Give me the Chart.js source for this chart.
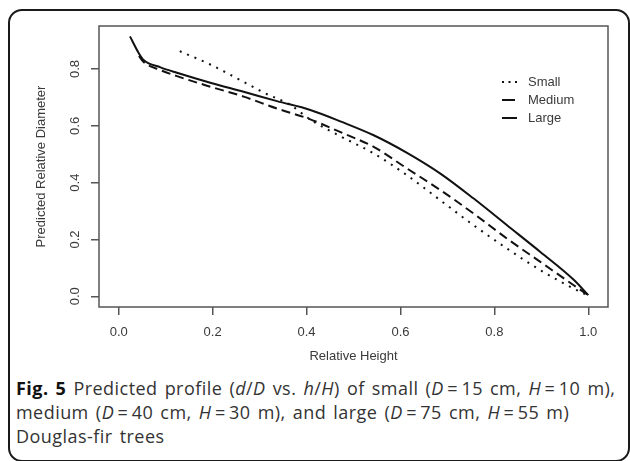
<!DOCTYPE html>
<html>
<head>
<meta charset="utf-8">
<script src="https://cdn.jsdelivr.net/npm/chart.js@4"></script>
<style>
  body { margin: 0; background: #fff; width: 630px; height: 461px; overflow: hidden; position: relative; }
  #frame { position: absolute; left: 8px; top: 9px; width: 622px; height: 453px; box-sizing: border-box;
           border: 2px solid #1a1a1a; border-radius: 14px; }
  #wrap { position: absolute; left: 0; top: 0; width: 630px; height: 370px; }
  #caption { position: absolute; left: 16px; top: 376px; white-space: nowrap;
             font-family: "Open Sans", "Noto Sans", sans-serif; font-size: 18px; line-height: 24px;
             letter-spacing: 0.45px; word-spacing: 2px; color: #333; }
  #caption b { color: #111; }
</style>
</head>
<body>
<div id="frame"></div>
<div id="wrap"><canvas id="profile"></canvas></div>
<div id="caption"><b>Fig. 5</b> Predicted profile (<i>d</i>/<i>D</i> vs. <i>h</i>/<i>H</i>) of small (<i>D</i>&#8201;=&#8201;15 cm, <i>H</i>&#8201;=&#8201;10 m),<br>medium (<i>D</i>&#8201;=&#8201;40 cm, <i>H</i>&#8201;=&#8201;30 m), and large (<i>D</i>&#8201;=&#8201;75 cm, <i>H</i>&#8201;=&#8201;55 m)<br>Douglas-fir trees</div>
<script>
// relative height (h/H) and predicted relative diameter (d/D)
var smallH = [0.130, 0.195, 0.266, 0.309, 0.366, 0.408, 0.475, 0.543, 0.614, 0.685, 0.756, 0.827, 0.898, 0.969, 1.0];
var smallD = [0.863, 0.816, 0.755, 0.717, 0.673, 0.622, 0.561, 0.503, 0.426, 0.338, 0.250, 0.168, 0.092, 0.027, 0.002];

var mediumH = [0.043, 0.053, 0.089, 0.124, 0.195, 0.266, 0.337, 0.408, 0.475, 0.543, 0.614, 0.685, 0.756, 0.827, 0.898, 0.969, 1.0];
var mediumD = [0.846, 0.825, 0.796, 0.775, 0.738, 0.703, 0.661, 0.623, 0.576, 0.526, 0.450, 0.374, 0.291, 0.203, 0.121, 0.039, 0.004];

var largeH = [0.024, 0.043, 0.053, 0.089, 0.124, 0.195, 0.266, 0.337, 0.408, 0.475, 0.543, 0.614, 0.685, 0.756, 0.827, 0.898, 0.969, 1.0];
var largeD = [0.915, 0.855, 0.832, 0.806, 0.787, 0.752, 0.720, 0.687, 0.656, 0.614, 0.567, 0.505, 0.432, 0.344, 0.250, 0.156, 0.058, 0.004];

var seriesNames = ['Small', 'Medium', 'Large'];
var xTicks = [0.0, 0.2, 0.4, 0.6, 0.8, 1.0];
var yTicks = [0.0, 0.2, 0.4, 0.6, 0.8];

function pts(xs, ys) {
    return xs.map(function (x, i) { return { x: x, y: ys[i] }; });
}

var axisFont = { family: '"Liberation Sans", Arial, sans-serif', size: 13 };
var axisColor = '#555';
var textColor = '#3a3a3a';

// R style box, rotated y labels and the legend
var rStyle = {
    id: 'rStyle',
    afterDraw: function (chart) {
        var ctx = chart.ctx, a = chart.chartArea;
        ctx.save();
        ctx.strokeStyle = axisColor;
        ctx.lineWidth = 1.5;
        ctx.strokeRect(a.left, a.top, a.right - a.left, a.bottom - a.top);

        var ys = chart.scales.y;
        ctx.fillStyle = textColor;
        ctx.font = axisFont.size + 'px ' + axisFont.family;
        ctx.textAlign = 'center';
        ctx.textBaseline = 'middle';
        yTicks.forEach(function (v) {
            ctx.save();
            ctx.translate(75, ys.getPixelForValue(v));
            ctx.rotate(-Math.PI / 2);
            ctx.fillText(v.toFixed(1), 0, 0);
            ctx.restore();
        });

        var legendDash = [[2, 4.5], [13, 40], []];
        chart.data.datasets.forEach(function (ds, i) {
            var y = 82 + i * 18;
            ctx.strokeStyle = ds.borderColor;
            ctx.lineWidth = 2;
            ctx.setLineDash(legendDash[i]);
            ctx.beginPath();
            ctx.moveTo(502, y);
            ctx.lineTo(517, y);
            ctx.stroke();
            ctx.setLineDash([]);
            ctx.textAlign = 'left';
            ctx.fillStyle = textColor;
            ctx.fillText(ds.label, 528, y);
        });
        ctx.restore();
    }
};

var ctx = document.getElementById('profile').getContext('2d');
var profileChart = new Chart(ctx, {
    type: 'line',
    data: {
        datasets: [{
            label: seriesNames[0],
            data: pts(smallH, smallD),
            borderDash: [2, 6]
        }, {
            label: seriesNames[1],
            data: pts(mediumH, mediumD),
            borderDash: [9, 5]
        }, {
            label: seriesNames[2],
            data: pts(largeH, largeD),
            borderDash: []
        }].map(function (ds) {
            ds.borderColor = '#111';
            ds.borderWidth = 2;
            ds.pointRadius = 0;
            ds.fill = false;
            ds.cubicInterpolationMode = 'monotone';
            return ds;
        })
    },
    options: {
        responsive: true,
        maintainAspectRatio: false,
        animation: false,
        layout: { padding: { left: 30, top: 26, right: 22, bottom: 0 } },
        plugins: { legend: { display: false }, tooltip: { enabled: false } },
        scales: {
            x: {
                type: 'linear',
                min: -0.042, max: 1.042,
                afterBuildTicks: function (s) { s.ticks = xTicks.map(function (v) { return { value: v }; }); },
                afterFit: function (s) { s.height = 63; },
                grid: { drawOnChartArea: false, drawTicks: true, tickLength: 8, color: axisColor, lineWidth: 1.5 },
                border: { display: false },
                ticks: { font: axisFont, color: textColor, padding: 10, maxRotation: 0,
                         callback: function (v) { return Number(v).toFixed(1); } },
                title: { display: true, text: 'Relative Height', font: axisFont, color: textColor, padding: { top: 4, bottom: 6 } }
            },
            y: {
                type: 'linear',
                min: -0.0377, max: 0.9516,
                afterBuildTicks: function (s) { s.ticks = yTicks.map(function (v) { return { value: v }; }); },
                afterFit: function (s) { s.width = 69; },
                grid: { drawOnChartArea: false, drawTicks: true, tickLength: 8, color: axisColor, lineWidth: 1.5 },
                border: { display: false },
                ticks: { font: axisFont, color: 'rgba(0,0,0,0)', callback: function () { return ''; } },
                title: { display: true, text: 'Predicted Relative Diameter', font: axisFont, color: textColor, padding: { top: 4, bottom: 4 } }
            }
        }
    },
    plugins: [rStyle]
});
</script>
</body>
</html>
